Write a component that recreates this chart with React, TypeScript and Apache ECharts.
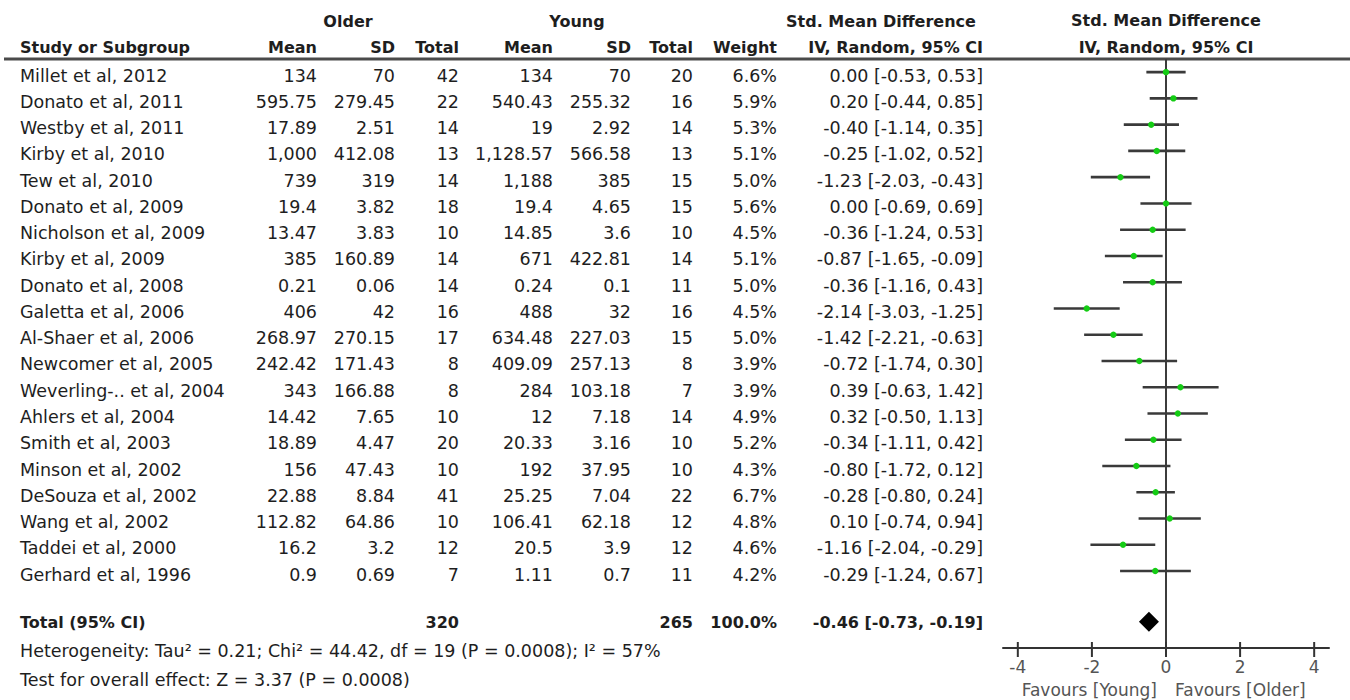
import React, { useEffect, useRef } from 'react';
import * as echarts from 'echarts';

const studies = [
  'Millet et al, 2012', 'Donato et al, 2011', 'Westby et al, 2011', 'Kirby et al, 2010', 'Tew et al, 2010',
  'Donato et al, 2009', 'Nicholson et al, 2009', 'Kirby et al, 2009', 'Donato et al, 2008', 'Galetta et al, 2006',
  'Al-Shaer et al, 2006', 'Newcomer et al, 2005', 'Weverling-.. et al, 2004', 'Ahlers et al, 2004', 'Smith et al, 2003',
  'Minson et al, 2002', 'DeSouza et al, 2002', 'Wang et al, 2002', 'Taddei et al, 2000', 'Gerhard et al, 1996',
];
const olderMean = [134, 595.75, 17.89, 1000, 739, 19.4, 13.47, 385, 0.21, 406, 268.97, 242.42, 343, 14.42, 18.89, 156, 22.88, 112.82, 16.2, 0.9];
const olderSD = [70, 279.45, 2.51, 412.08, 319, 3.82, 3.83, 160.89, 0.06, 42, 270.15, 171.43, 166.88, 7.65, 4.47, 47.43, 8.84, 64.86, 3.2, 0.69];
const olderTotal = [42, 22, 14, 13, 14, 18, 10, 14, 14, 16, 17, 8, 8, 10, 20, 10, 41, 10, 12, 7];
const youngMean = [134, 540.43, 19, 1128.57, 1188, 19.4, 14.85, 671, 0.24, 488, 634.48, 409.09, 284, 12, 20.33, 192, 25.25, 106.41, 20.5, 1.11];
const youngSD = [70, 255.32, 2.92, 566.58, 385, 4.65, 3.6, 422.81, 0.1, 32, 227.03, 257.13, 103.18, 7.18, 3.16, 37.95, 7.04, 62.18, 3.9, 0.7];
const youngTotal = [20, 16, 14, 13, 15, 15, 10, 14, 11, 16, 15, 8, 7, 14, 10, 10, 22, 12, 12, 11];
const weight = [6.6, 5.9, 5.3, 5.1, 5.0, 5.6, 4.5, 5.1, 5.0, 4.5, 5.0, 3.9, 3.9, 4.9, 5.2, 4.3, 6.7, 4.8, 4.6, 4.2];
const smd = [0.0, 0.2, -0.4, -0.25, -1.23, 0.0, -0.36, -0.87, -0.36, -2.14, -1.42, -0.72, 0.39, 0.32, -0.34, -0.8, -0.28, 0.1, -1.16, -0.29];
const ciLow = [-0.53, -0.44, -1.14, -1.02, -2.03, -0.69, -1.24, -1.65, -1.16, -3.03, -2.21, -1.74, -0.63, -0.5, -1.11, -1.72, -0.8, -0.74, -2.04, -1.24];
const ciHigh = [0.53, 0.85, 0.35, 0.52, -0.43, 0.69, 0.53, -0.09, 0.43, -1.25, -0.63, 0.3, 1.42, 1.13, 0.42, 0.12, 0.24, 0.94, -0.29, 0.67];

const totalOlder = 320;
const totalYoung = 265;
const totalWeight = 100.0;
const totalSmd = -0.46;
const totalLow = -0.73;
const totalHigh = -0.19;

const xTicks = [-4, -2, 0, 2, 4];
const heterogeneityText = 'Heterogeneity: Tau\u00B2 = 0.21; Chi\u00B2 = 44.42, df = 19 (P = 0.0008); I\u00B2 = 57%';
const overallText = 'Test for overall effect: Z = 3.37 (P = 0.0008)';
const favoursLeft = 'Favours [Young]';
const favoursRight = 'Favours [Older]';

// layout
const FONT = 'DejaVu Sans';
const TEXT = '#1e1e1e';
const REG = 17.5;
const BOLD = 16;
const Y_MIN = -0.5;
const Y_MAX = 21.93;
const TOTAL_ROW = studies.length + 0.93;
const TEXT_DY = 3.5;
const COLS = { name: 20, oMean: 317, oSD: 395, oTotal: 459, yMean: 553, ySD: 631, yTotal: 693, weight: 777, ci: 983 };

const fmtNum = (v: number) => v.toLocaleString('en-US', { maximumFractionDigits: 2 });
const fmtCi = (e: number, l: number, h: number) => `${e.toFixed(2)} [${l.toFixed(2)}, ${h.toFixed(2)}]`;

const txt = (x: number, y: number, text: string, align: string, bold = false, size?: number, fill = TEXT) => ({
  type: 'text',
  x,
  y,
  style: {
    text,
    fill,
    fontFamily: FONT,
    fontSize: size ?? (bold ? BOLD : REG),
    fontWeight: bold ? 'bold' : 'normal',
    align,
    textAlign: align,
    verticalAlign: 'middle',
    textVerticalAlign: 'middle',
  },
});

export default function App() {
  const ref = useRef<HTMLDivElement>(null);

  useEffect(() => {
    document.body.style.margin = '0';
    const chart = echarts.init(ref.current!, null, { renderer: 'svg' });

    const option: any = {
      animation: false,
      backgroundColor: '#ffffff',
      grid: [
        { left: 0, top: 59, width: 1350, height: 589 },
        { left: 1003, top: 59, width: 326, height: 589 },
      ],
      xAxis: [
        { type: 'value', gridIndex: 0, min: 0, max: 1350, show: false },
        {
          type: 'value',
          gridIndex: 1,
          min: -4.4,
          max: 4.4,
          axisLine: { show: true, onZero: false, lineStyle: { color: '#333', width: 2 } },
          axisTick: { show: false },
          splitLine: { show: false },
          axisLabel: {
            customValues: xTicks,
            color: '#555',
            fontFamily: FONT,
            fontSize: 17,
            margin: 10,
            formatter: (v: number) => String(v),
          },
        },
      ],
      yAxis: [
        { type: 'value', gridIndex: 0, min: Y_MIN, max: Y_MAX, inverse: true, show: false },
        { type: 'value', gridIndex: 1, min: Y_MIN, max: Y_MAX, inverse: true, show: false },
      ],
      graphic: [
        { type: 'line', shape: { x1: 4, y1: 59, x2: 1350, y2: 59 }, style: { stroke: '#4a4a4a', lineWidth: 3 } },
        txt(348, 21, 'Older', 'center', true),
        txt(577, 21, 'Young', 'center', true),
        txt(881, 21, 'Std. Mean Difference', 'center', true),
        txt(1166, 20, 'Std. Mean Difference', 'center', true),
        txt(COLS.name, 47, 'Study or Subgroup', 'left', true),
        txt(COLS.oMean, 47, 'Mean', 'right', true),
        txt(COLS.oSD, 47, 'SD', 'right', true),
        txt(COLS.oTotal, 47, 'Total', 'right', true),
        txt(COLS.yMean, 47, 'Mean', 'right', true),
        txt(COLS.ySD, 47, 'SD', 'right', true),
        txt(COLS.yTotal, 47, 'Total', 'right', true),
        txt(COLS.weight, 47, 'Weight', 'right', true),
        txt(COLS.ci, 47, 'IV, Random, 95% CI', 'right', true),
        txt(1166, 47, 'IV, Random, 95% CI', 'center', true),
        txt(COLS.name, 651, heterogeneityText, 'left'),
        txt(COLS.name, 680, overallText, 'left'),
      ],
      series: [
        {
          type: 'custom',
          xAxisIndex: 0,
          yAxisIndex: 0,
          data: studies.map((_, i) => [0, i, i]),
          renderItem: (_p: any, api: any) => {
            const i = api.value(2);
            const y = api.coord([0, api.value(1)])[1] + TEXT_DY;
            return {
              type: 'group',
              children: [
                txt(COLS.name, y, studies[i], 'left'),
                txt(COLS.oMean, y, fmtNum(olderMean[i]), 'right'),
                txt(COLS.oSD, y, fmtNum(olderSD[i]), 'right'),
                txt(COLS.oTotal, y, String(olderTotal[i]), 'right'),
                txt(COLS.yMean, y, fmtNum(youngMean[i]), 'right'),
                txt(COLS.ySD, y, fmtNum(youngSD[i]), 'right'),
                txt(COLS.yTotal, y, String(youngTotal[i]), 'right'),
                txt(COLS.weight, y, weight[i].toFixed(1) + '%', 'right'),
                txt(COLS.ci, y, fmtCi(smd[i], ciLow[i], ciHigh[i]), 'right'),
              ],
            };
          },
        },
        {
          type: 'custom',
          xAxisIndex: 0,
          yAxisIndex: 0,
          data: [[0, TOTAL_ROW]],
          renderItem: (_p: any, api: any) => {
            const y = api.coord([0, api.value(1)])[1] + 1;
            return {
              type: 'group',
              children: [
                txt(COLS.name, y, 'Total (95% CI)', 'left', true),
                txt(COLS.oTotal, y, String(totalOlder), 'right', true),
                txt(COLS.yTotal, y, String(totalYoung), 'right', true),
                txt(COLS.weight, y, totalWeight.toFixed(1) + '%', 'right', true),
                txt(COLS.ci, y, fmtCi(totalSmd, totalLow, totalHigh), 'right', true),
              ],
            };
          },
        },
        {
          type: 'custom',
          xAxisIndex: 1,
          yAxisIndex: 1,
          data: [[0, 0]],
          z: 1,
          renderItem: (_p: any, api: any) => {
            const top = api.coord([0, Y_MIN]);
            const bot = api.coord([0, Y_MAX]);
            return {
              type: 'group',
              children: [
                { type: 'line', shape: { x1: top[0], y1: top[1], x2: bot[0], y2: bot[1] }, style: { stroke: '#3c3c3c', lineWidth: 2 } },
                txt(bot[0] - 9, bot[1] + 42, favoursLeft, 'right', false, 17, '#555'),
                txt(bot[0] + 9, bot[1] + 42, favoursRight, 'left', false, 17, '#555'),
              ],
            };
          },
        },
        {
          type: 'custom',
          xAxisIndex: 1,
          yAxisIndex: 1,
          data: xTicks.map((v) => [v, Y_MAX]),
          z: 2,
          renderItem: (_p: any, api: any) => {
            const p = api.coord([api.value(0), api.value(1)]);
            return { type: 'line', shape: { x1: p[0], y1: p[1] - 6, x2: p[0], y2: p[1] + 9 }, style: { stroke: '#333', lineWidth: 2 } };
          },
        },
        {
          type: 'custom',
          xAxisIndex: 1,
          yAxisIndex: 1,
          data: smd.map((v, i) => [v, i, ciLow[i], ciHigh[i]]),
          z: 3,
          renderItem: (_p: any, api: any) => {
            const r = api.value(1);
            const c = api.coord([api.value(0), r]);
            const l = api.coord([api.value(2), r]);
            const h = api.coord([api.value(3), r]);
            return {
              type: 'group',
              children: [
                { type: 'line', shape: { x1: l[0], y1: l[1], x2: h[0], y2: h[1] }, style: { stroke: '#3a3a3a', lineWidth: 2.6 } },
                { type: 'circle', shape: { cx: c[0], cy: c[1], r: 3.2 }, style: { fill: '#14cc14' } },
              ],
            };
          },
        },
        {
          type: 'custom',
          xAxisIndex: 1,
          yAxisIndex: 1,
          data: [[totalSmd, TOTAL_ROW, totalLow, totalHigh]],
          z: 3,
          renderItem: (_p: any, api: any) => {
            const r = api.value(1);
            const c = api.coord([api.value(0), r]);
            const l = api.coord([api.value(2), r]);
            const h = api.coord([api.value(3), r]);
            return {
              type: 'polygon',
              shape: { points: [[l[0], c[1]], [c[0], c[1] - 10], [h[0], c[1]], [c[0], c[1] + 10]] },
              style: { fill: '#000' },
            };
          },
        },
      ],
    };

    chart.setOption(option);
    return () => chart.dispose();
  }, []);

  return <div ref={ref} style={{ width: 1350, height: 700 }} />;
}
